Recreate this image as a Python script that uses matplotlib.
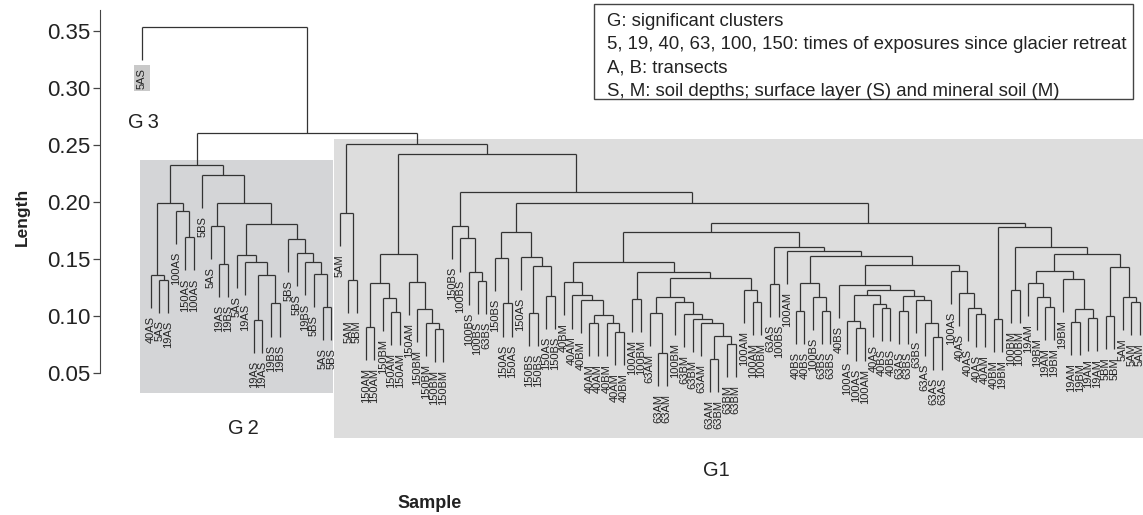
import matplotlib
matplotlib.use("Agg")
import matplotlib.pyplot as plt
from matplotlib.patches import Rectangle

plt.rcParams['font.family'] = ['Liberation Sans', 'DejaVu Sans']

# ---------------- data: dendrogram (nodes = [left, right, merge height]) -------------
g3_leaf = "5AS"

g2_tree = [
    [["40AS", ["5AS", "19AS", 0.132], 0.136],
     ["100AS", ["150AS", "100AS", 0.169], 0.192], 0.199],
    ["5BS",
     [["5AS", ["19AS", "19BS", 0.146], 0.179],
      [["5AS", ["19AS", [["19AS", "19AS", 0.0965], ["19BS", "19BS", 0.111], 0.136], 0.147], 0.1535],
       ["5BS", ["5BS", ["19BS", ["5BS", ["5AS", "5BS", 0.108], 0.137], 0.147], 0.155], 0.1675],
       0.181],
      0.199],
     0.224],
    0.2325]

g1_c = ["5AM", ["5AM", "5BM", 0.132], 0.190]

g1_d1 = [
    [["150AM", "150AM", 0.090], ["150BM", ["150AM", "150AM", 0.1035], 0.116], 0.129],
    ["150AM", ["150BM", ["150BM", ["150BM", "150BM", 0.0886], 0.094], 0.106], 0.130],
    0.154]

g1_e = ["150BS", ["100BS", ["100BS", ["100BS", "63BS", 0.131], 0.1386], 0.168], 0.179]

g1_fa = [
    ["150BS", ["150AS", "150AS", 0.111], 0.151],
    ["150AS", [["150BS", "150BS", 0.1026], ["150AS", "150BS", 0.1175], 0.144], 0.152],
    0.1737]

g1_p1 = [
    ["40BM", ["40AM", ["40BM", [["40AM", "40AM", 0.094],
                                 ["40BM", ["40AM", "40BM", 0.086], 0.094], 0.101], 0.114], 0.118], 0.130],
    [["100AM", "100BM", 0.115],
     [[["63AM", ["63AM", "63AM", 0.0675], 0.1026],
       ["100BM", ["63BM", ["63BM", ["63AM", [["63AM", "63BM", 0.062], ["63BM", "63BM", 0.0755], 0.0825],
                                     0.094], 0.0974], 0.1018], 0.1123],
       0.1167],
      ["100AM", ["100AM", "100BM", 0.1123], 0.1228],
      0.1333],
     0.1386],
    0.1474]

g1_p2 = [
    ["63AS", "100BS", 0.128],
    ["100AM",
     [[["40BS", "40BS", 0.1044], ["100BS", ["63BS", "63BS", 0.1044], 0.1167], 0.129],
      [["40BS",
        [[["100AS", ["100AS", "100AM", 0.0895], 0.0956], ["40AS", ["40BS", "40BS", 0.107], 0.1105], 0.1184],
         [["63AS", "63BS", 0.1044], ["63BS", ["63AS", ["63AS", "63AS", 0.0816], 0.094], 0.114], 0.1175],
         0.1228],
        0.1272],
       ["100AS", ["40AS", ["40AS", ["40AS", "40AM", 0.1018], 0.107], 0.120], 0.1395],
       0.1447],
      0.1529],
     0.157],
    0.1605]

g1_h = [
    ["40BM", "19BM", 0.0974],
    [["100BM", "100BM", 0.1228],
     [[["19AM", ["19BM", ["19AM", "19BM", 0.108], 0.1167], 0.129],
       ["19BM", [["19AM", "19BM", 0.0947], ["19AM", "19AM", 0.098], 0.106], 0.1325], 0.1397],
      [["5BM", "5BM", 0.100], ["5AM", ["5AM", "5AM", 0.112], 0.1167], 0.143],
      0.1544],
     0.1608],
    0.1784]

h_p, h_fb, h_f, h_d2, h_d, h_g1, h_g12, h_root = 0.1737, 0.1818, 0.1994, 0.2088, 0.2421, 0.2509, 0.2605, 0.3538

g1_tree = [g1_c, [g1_d1, [g1_e, [g1_fa, [[g1_p1, g1_p2, h_p], g1_h, h_fb], h_f], h_d2], h_d], h_g1]
tree = [g3_leaf, [g2_tree, g1_tree, h_g12], h_root]

y_ticks = [0.05, 0.10, 0.15, 0.20, 0.25, 0.30, 0.35]
legend_lines = ["G: significant clusters",
                "5, 19, 40, 63, 100, 150: times of exposures since glacier retreat",
                "A, B: transects",
                "S, M: soil depths; surface layer (S) and mineral soil (M)"]

# ---------------- styling / layout ----------------
W, H = 1143, 515
HANG = 0.029
GAP = 0.007
LINE = '#333333'
STEP = 8.603          # px per leaf
X0 = 142              # px of first leaf

fig = plt.figure(figsize=(W / 100, H / 100), dpi=100)
ax = fig.add_axes([0, 0, 1, 1])
ax.set_xlim((0 - X0) / STEP, (W - X0) / STEP)
ax.set_ylim(0.35 - (H - 31) / 1140, 0.35 + 31 / 1140)
ax.patch.set_alpha(0)

# cluster boxes (leaf units, length units)
ax.add_patch(Rectangle((-0.23, 0.0325), 22.43, 0.2043, facecolor='#d4d5d7', edgecolor='none', zorder=0))
ax.add_patch(Rectangle((22.32, -0.007), 100, 0.2623, facecolor='#dddddd', edgecolor='none', zorder=0))

counter = [0]
leaf_info = []


def draw(node):
    if isinstance(node, str):
        x = counter[0]
        counter[0] += 1
        return x, None, node
    left, right, h = node
    res = []
    for child in (left, right):
        xc, hc, lab = draw(child)
        if hc is None:
            bottom = h - HANG
            leaf_info.append((xc, bottom, lab))
        else:
            bottom = hc
        ax.plot([xc, xc], [bottom, h], color=LINE, lw=0.9, solid_capstyle='butt', zorder=2)
        res.append(xc)
    ax.plot([res[0], res[1]], [h, h], color=LINE, lw=0.9, solid_capstyle='butt', zorder=2)
    return (res[0] + res[1]) / 2, h, None


draw(tree)

for xc, bottom, lab in leaf_info:
    kw = {}
    if xc == 0:
        kw = dict(bbox=dict(boxstyle='square,pad=0.25', facecolor='#c9c9c9', edgecolor='none'))
    ax.text(xc, bottom - GAP, lab, rotation=90, ha='center', va='top', fontsize=8,
            color='#222222', zorder=3, **kw)

# y axis
ax.spines[['top', 'right', 'bottom']].set_visible(False)
ax.spines['left'].set_position(('data', (100 - X0) / STEP))
ax.spines['left'].set_bounds(0.05, 0.368)
ax.spines['left'].set_color('#444444')
ax.set_yticks(y_ticks)
ax.set_yticklabels([f"{v:.2f}" for v in y_ticks])
ax.tick_params(axis='y', direction='out', length=5, width=0.9, color='#444444',
               labelsize=16, pad=2, labelcolor='#222222')
ax.set_xticks([])

# axis titles
fig.text(22 / W, 1 - 217 / H, "Length", rotation=90, ha='center', va='center',
         fontsize=12.5, fontweight='bold', color='#222222')
fig.text(430 / W, 1 - 503 / H, "Sample", ha='center', va='center',
         fontsize=13, fontweight='bold', color='#222222')

# group labels
for txt, px, py in [("G\u20093", 143, 122), ("G\u20092", 243, 428), ("G1", 716, 470)]:
    fig.text(px / W, 1 - py / H, txt, ha='center', va='center', fontsize=14.5, color='#222222')

# legend box
fig.add_artist(Rectangle((594 / W, 1 - 99 / H), (1133 - 594) / W, 95 / H, transform=fig.transFigure,
                         facecolor='white', edgecolor='#444444', lw=1.0))
for i, line in enumerate(legend_lines):
    fig.text(607 / W, 1 - (21.5 + i * 23.2) / H, line, ha='left', va='center', fontsize=13.4, color='#222222')

fig.savefig("out.png", dpi=100)
